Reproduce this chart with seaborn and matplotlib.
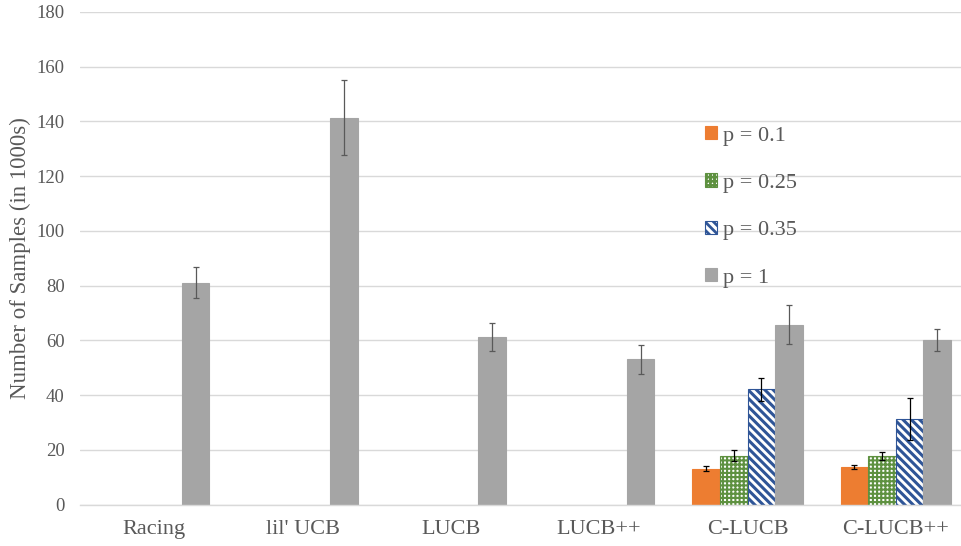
import numpy as np
import pandas as pd
import seaborn as sns
import matplotlib.pyplot as plt
from matplotlib.container import BarContainer

methods = ["Racing", "lil' UCB", "LUCB", "LUCB++", "C-LUCB", "C-LUCB++"]
p_labels = ["p = 0.1", "p = 0.25", "p = 0.35", "p = 1"]
nan = np.nan
p01 = [nan, nan, nan, nan, 13.1, 13.6]
p01_err = [nan, nan, nan, nan, 0.8, 0.7]
p025 = [nan, nan, nan, nan, 17.9, 17.7]
p025_err = [nan, nan, nan, nan, 1.9, 1.5]
p035 = [nan, nan, nan, nan, 42.2, 31.2]
p035_err = [nan, nan, nan, nan, 4.2, 7.6]
p1 = [81.0, 141.3, 61.2, 53.0, 65.7, 60.2]
p1_err = [5.7, 13.7, 5.0, 5.2, 7.2, 4.0]

values = [p01, p025, p035, p1]
errors = [p01_err, p025_err, p035_err, p1_err]

rows = []
for lab, vals, errs in zip(p_labels, values, errors):
    for m, v, e in zip(methods, vals, errs):
        rows.append({"method": m, "p": lab, "value": v, "err": e})
df = pd.DataFrame(rows)
plot_df = df.dropna(subset=["value"])

sns.set_style("white")
plt.rcParams["font.family"] = ["Liberation Serif", "DejaVu Serif"]
plt.rcParams["hatch.linewidth"] = 2.0

text_color = "#595959"
grid_color = "#D9D9D9"
face_colors = ["#ED7D31", "white", "white", "#A5A5A5"]
edge_colors = ["#ED7D31", "#5E9140", "#2F5597", "#A5A5A5"]
hatches = [None, "++++", "\\\\\\\\", None]
hatch_lw = [None, 1.5, 2.2, None]
ecolors = ["black", "black", "black", "#595959"]

fig = plt.figure(figsize=(9.61, 5.46), dpi=100)
ax = fig.add_axes([80 / 961, (546 - 504.5) / 546, 890 / 961, 492.5 / 546])

sns.barplot(
    data=plot_df,
    x="method",
    y="value",
    hue="p",
    order=methods,
    hue_order=p_labels,
    errorbar=None,
    width=0.745,
    dodge=True,
    ax=ax,
    legend=False,
)

bar_conts = [c for c in ax.containers if isinstance(c, BarContainer)]
legend_handles = []
for i, cont in enumerate(bar_conts):
    first = None
    for bar in cont.patches:
        if bar is None:
            continue
        if first is None:
            first = bar
        bar.set_facecolor(face_colors[i])
        bar.set_edgecolor(edge_colors[i])
        bar.set_linewidth(0.8)
        if hatches[i]:
            bar.set_hatch(hatches[i])
            if hasattr(bar, "set_hatch_linewidth"):
                bar.set_hatch_linewidth(hatch_lw[i])
        cx = bar.get_x() + bar.get_width() / 2
        k = int(round(cx))
        err = errors[i][k]
        if not np.isnan(err):
            ax.errorbar(cx, bar.get_height(), yerr=err, color=ecolors[i],
                        elinewidth=0.9, capsize=2, capthick=0.9, fmt="none", zorder=5)
    legend_handles.append(first)

ax.set_ylim(0, 180)
ax.set_yticks(np.arange(0, 181, 20))
ax.set_xlim(-0.5, 5.5)
ax.yaxis.grid(True, color=grid_color, linewidth=1.0)
ax.set_axisbelow(True)
for s in ["top", "right", "left"]:
    ax.spines[s].set_visible(False)
ax.spines["bottom"].set_color(grid_color)
ax.spines["bottom"].set_linewidth(1.0)
ax.tick_params(axis="both", length=0, colors=text_color)
ax.tick_params(axis="x", labelsize=16, pad=11)
ax.tick_params(axis="y", labelsize=13.5, pad=11)
ax.set_xlabel("")
ax.set_ylabel("Number of Samples (in 1000s)", fontsize=16.5, color=text_color, labelpad=4)

leg = ax.legend(
    legend_handles,
    p_labels,
    loc="upper left",
    bbox_to_anchor=(685 / 961, 1 - 106 / 546),
    bbox_transform=fig.transFigure,
    frameon=False,
    fontsize=16,
    handlelength=0.55,
    handleheight=0.55,
    handletextpad=0.25,
    labelspacing=1.25,
    labelcolor=text_color,
)

fig.savefig("out.png", dpi=100)
